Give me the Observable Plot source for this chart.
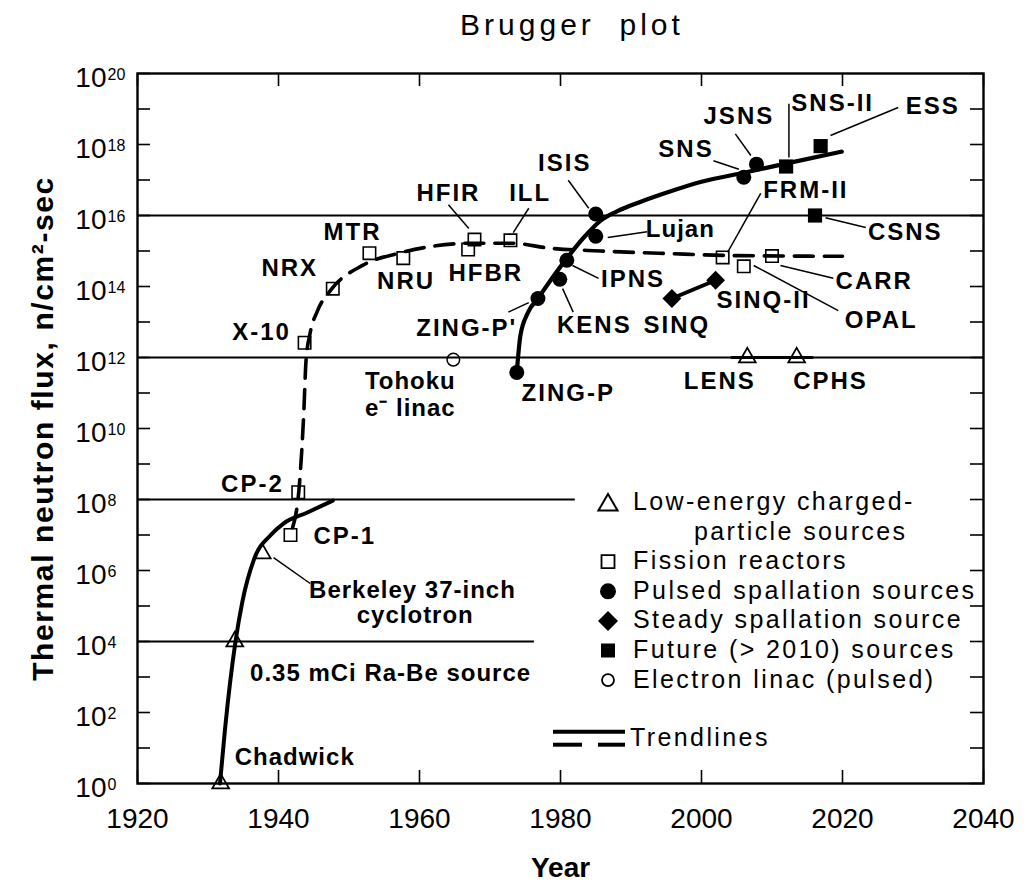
<!DOCTYPE html>
<html>
<head>
<meta charset="utf-8">
<script src="https://cdn.jsdelivr.net/npm/d3@7"></script>
<script src="https://cdn.jsdelivr.net/npm/@observablehq/plot@0.6"></script>
<style>
  body { margin: 0; background: #fff; }
  #title { position: relative; width: 1031px; height: 50px; font-family: "Liberation Sans", Arial, Helvetica, sans-serif; color: #000; }
  #title span { position: absolute; left: 572px; top: 10px; transform: translateX(-50%); font-size: 30px; line-height: 1; letter-spacing: 4px; white-space: pre; }
  g[aria-description="caps"] text { letter-spacing: 2px; }
  g[aria-description="mixed"] text { letter-spacing: 1px; }
  g[aria-description="ytitle"] text { letter-spacing: 1.6px; }
  g.legend text { letter-spacing: 2.4px; }
</style>
</head>
<body>
<div id="title"><span>Brugger  plot</span></div>
<div id="chart"></div>
<script>
// ---------------- data ----------------
const xTicks = [1920, 1940, 1960, 1980, 2000, 2020, 2040];
const yTickExponents = [0, 1, 2, 3, 4, 5, 6, 7, 8, 9, 10, 11, 12, 13, 14, 15, 16, 17, 18, 19, 20];
const yLabelExponents = [0, 2, 4, 6, 8, 10, 12, 14, 16, 18, 20];

// horizontal reference lines (flux level, year where the line ends)
const refLineFlux = [1e16, 1e12, 1e8, 1e4];
const refLineEnd = [2040, 2040, 1982.1, 1976.3];

// Low-energy charged-particle sources (open triangles)
const chargedNames = ["Chadwick", "Ra-Be", "Berkeley", "LENS", "CPHS"];
const chargedYears = [1931.8, 1933.8, 1937.7, 2006.5, 2013.5];
const chargedFlux = [1, 1e4, 3e6, 1e12, 1e12];

// Fission reactors (open squares)
const fissionNames = ["CP-1", "CP-2", "X-10", "NRX", "MTR", "NRU", "HFBR", "HFIR", "ILL", "FRM-II", "OPAL", "CARR"];
const fissionYears = [1941.7, 1942.8, 1943.7, 1947.7, 1952.9, 1957.7, 1966.9, 1967.8, 1972.9, 2003.0, 2006.0, 2010.0];
const fissionFlux = [1e7, 1.6e8, 2.6e12, 8.7e13, 8.7e14, 6.3e14, 1.1e15, 2.1e15, 2e15, 6.6e14, 3.7e14, 7.2e14];

// Pulsed spallation sources (filled circles)
const pulsedNames = ["ZING-P", "ZING-P'", "KENS", "IPNS", "Lujan", "ISIS", "SNS", "JSNS"];
const pulsedYears = [1973.8, 1976.8, 1979.9, 1980.9, 1985.0, 1985.0, 2006.0, 2007.8];
const pulsedFlux = [3.8e11, 4.6e13, 1.6e14, 5.5e14, 2.6e15, 1.1e16, 1.2e17, 2.8e17];

// Steady spallation source (filled diamonds)
const steadyNames = ["SINQ", "SINQ-II"];
const steadyYears = [1995.8, 2002.0];
const steadyFlux = [4.6e13, 1.5e14];

// Future (> 2010) sources (filled squares)
const futureNames = ["SNS-II", "ESS", "CSNS"];
const futureYears = [2012.0, 2016.9, 2016.1];
const futureFlux = [2.4e17, 9e17, 1e16];

// Electron linac (open circle)
const linacNames = ["Tohoku"];
const linacYears = [1964.8];
const linacFlux = [8.7e11];

// Trendlines
const chargedTrendYears = [1931.7, 1932.4, 1933.9, 1934.9, 1936.5, 1938.9, 1940.7, 1944.1, 1947.7];
const chargedTrendFlux = [1, 3.2e1, 1e4, 1.4e5, 2e6, 1e7, 2.1e7, 4.3e7, 9.3e7];

const fissionTrendYears = [1942.0, 1943.0, 1943.6, 1943.9, 1944.5, 1945.5, 1947.4, 1952.0, 1957.3, 1962.3, 1967.5, 1973.0, 1978.5, 1985.7, 1995.0, 2005.0, 2020.0];
const fissionTrendFlux = [1.6e7, 3.2e8, 3.2e10, 7.9e11, 5e12, 2e13, 7.9e13, 4e14, 8.9e14, 1.4e15, 1.66e15, 1.66e15, 1.2e15, 1e15, 8.5e14, 7.4e14, 7.1e14];

const spallTrendYears = [1973.8, 1974.3, 1975.3, 1976.9, 1978.6, 1981.0, 1983.3, 1985.7, 1988.0, 1991.3, 1995.2, 2000.0, 2006.0, 2011.6, 2019.9];
const spallTrendFlux = [3.8e11, 4e12, 1.7e13, 4.9e13, 1.5e14, 6.6e14, 2.4e15, 7.2e15, 1.3e16, 2.4e16, 4.5e16, 8.9e16, 1.6e17, 2.8e17, 6.3e17];

const lensSegYears = [2004.3, 2015.7];
const lensSegFlux = [1e12, 1e12];

// Labels: text and the point (year, flux) at the centre of the text
const labelTexts = ["Chadwick", "0.35 mCi Ra-Be source", "Berkeley 37-inch", "cyclotron", "CP-1", "CP-2", "X-10", "NRX", "MTR", "NRU", "HFBR", "HFIR", "ILL", "ISIS", "Lujan", "IPNS", "KENS", "SINQ", "ZING-P'", "ZING-P", "Tohoku", "e\u207B linac", "SNS", "JSNS", "SNS-II", "ESS", "FRM-II", "CSNS", "CARR", "SINQ-II", "OPAL", "LENS", "CPHS"];
const labelYears = [1942.3, 1955.9, 1959.0, 1959.4, 1949.4, 1936.3, 1937.6, 1941.6, 1950.5, 1958.1, 1969.4, 1964.1, 1975.7, 1980.6, 1997.0, 1990.3, 1984.8, 1996.5, 1966.7, 1981.1, 1958.7, 1958.7, 1997.8, 2005.3, 2018.6, 2032.8, 2014.8, 2028.9, 2024.5, 2008.8, 2025.5, 2002.6, 2018.3];
const labelFlux = [5.4, 1.26e3, 2.75e5, 5.4e4, 9.1e6, 2.6e8, 5e12, 3.2e14, 3.3e15, 1.4e14, 2.3e14, 4.2e16, 4.2e16, 2.9e17, 4.1e15, 1.6e14, 7.9e12, 7.9e12, 6.6e12, 1.0e11, 2.2e11, 3.6e10, 7.4e17, 6.2e18, 1.4e19, 1.2e19, 5e16, 3.3e15, 1.4e14, 4.1e13, 1.1e13, 2.2e11, 2.2e11];

// Leader lines from labels to points
const leaderYear1 = [1939.3, 1964.1, 1975.5, 1981.1, 1992.3, 1985.4, 1981.8, 1972.6, 2001.7, 2004.8, 2012.4, 2027.9, 2008.4, 2017.6, 2011.2, 2007.4];
const leaderFlux1 = [2.3e6, 2e16, 1.6e16, 9.8e16, 3.5e15, 1.7e14, 1.9e13, 1.9e13, 3.5e17, 2e18, 1.4e19, 1.1e19, 4.2e16, 8.7e15, 3.9e14, 3.9e14];
const leaderYear2 = [1944.5, 1967.0, 1973.3, 1984.0, 1986.7, 1981.7, 1980.3, 1975.5, 2005.3, 2007.0, 2012.4, 2018.3, 2003.7, 2023.3, 2018.7, 2019.4];
const leaderFlux2 = [4.3e5, 4.3e15, 3.3e15, 1.6e16, 2.4e15, 3.9e14, 8.7e13, 3.5e13, 2e17, 4.9e17, 4.3e17, 1.8e18, 9.1e14, 4.6e15, 1.7e14, 2.1e13];

// Legend
const legendTexts = ["Low-energy charged-", "particle sources", "Fission reactors", "Pulsed spallation sources", "Steady spallation source", "Future (> 2010) sources", "Electron linac (pulsed)"];
const legendSymbols = ["triangle", "", "square", "circle", "diamond", "filledSquare", "openCircle"];
const trendLegendText = "Trendlines";

// ---------------- build ----------------
const rows = (years, flux, names) => years.map((year, i) => ({year, flux: flux[i], name: names ? names[i] : ""}));
const W = 1031, H = 845, mT = 23, mB = 112, mL = 137, mR = 48;
const fw = W - mL - mR, fh = H - mT - mB;
const tk = 13;
const font = "'Liberation Sans', Arial, Helvetica, sans-serif";

const refRows = refLineFlux.map((flux, i) => ({flux, end: refLineEnd[i]}));
const labels = labelTexts.map((text, i) => ({text, year: labelYears[i], flux: labelFlux[i]}));
const leaders = leaderYear1.map((x1, i) => ({x1, y1: leaderFlux1[i], x2: leaderYear2[i], y2: leaderFlux2[i]}));
const isMixed = d => /[a-z]/.test(d.text);

const plot = Plot.plot({
  width: W, height: H,
  marginTop: mT, marginBottom: mB, marginLeft: mL, marginRight: mR,
  x: {domain: [xTicks[0], xTicks[xTicks.length - 1]], axis: null},
  y: {type: "log", domain: [10 ** yTickExponents[0], 10 ** yTickExponents[yTickExponents.length - 1]], axis: null},
  style: {fontFamily: font, background: "white", overflow: "visible", color: "black"},
  marks: [
    Plot.ruleY(refRows, {y: "flux", x1: () => xTicks[0], x2: "end", stroke: "black", strokeWidth: 1.8}),
    Plot.line(rows(chargedTrendYears, chargedTrendFlux), {x: "year", y: "flux", curve: "monotone-x", stroke: "black", strokeWidth: 4}),
    Plot.line(rows(fissionTrendYears, fissionTrendFlux), {x: "year", y: "flux", curve: "monotone-x", stroke: "black", strokeWidth: 3.6, strokeDasharray: "19,11"}),
    Plot.line(rows(spallTrendYears, spallTrendFlux), {x: "year", y: "flux", curve: "monotone-x", stroke: "black", strokeWidth: 4.2}),
    Plot.line(rows(lensSegYears, lensSegFlux), {x: "year", y: "flux", stroke: "black", strokeWidth: 3}),
    Plot.line(rows(steadyYears, steadyFlux), {x: "year", y: "flux", stroke: "black", strokeWidth: 4}),
    Plot.link(leaders, {x1: "x1", y1: "y1", x2: "x2", y2: "y2", stroke: "black", strokeWidth: 1.5}),
    Plot.dot(rows(chargedYears, chargedFlux, chargedNames), {x: "year", y: "flux", symbol: "triangle", r: 6.2, fill: "none", stroke: "black", strokeWidth: 1.8}),
    Plot.dot(rows(fissionYears, fissionFlux, fissionNames), {x: "year", y: "flux", symbol: "square", r: 7, fill: "none", stroke: "black", strokeWidth: 1.6}),
    Plot.dot(rows(pulsedYears, pulsedFlux, pulsedNames), {x: "year", y: "flux", symbol: "circle", r: 7.5, fill: "black", stroke: "none"}),
    Plot.dot(rows(steadyYears, steadyFlux, steadyNames), {x: "year", y: "flux", symbol: "diamond2", r: 8.5, fill: "black", stroke: "none"}),
    Plot.dot(rows(futureYears, futureFlux, futureNames), {x: "year", y: "flux", symbol: "square", r: 8, fill: "black", stroke: "none"}),
    Plot.dot(rows(linacYears, linacFlux, linacNames), {x: "year", y: "flux", symbol: "circle", r: 6.3, fill: "none", stroke: "black", strokeWidth: 1.5}),
    Plot.text(labels.filter(d => !isMixed(d)), {x: "year", y: "flux", text: "text", fontSize: 24, fontWeight: "bold", fill: "black", ariaDescription: "caps"}),
    Plot.text(labels.filter(isMixed), {x: "year", y: "flux", text: "text", fontSize: 24, fontWeight: "bold", fill: "black", ariaDescription: "mixed"}),
    // inward ticks
    Plot.tickX(xTicks, {x: d => d, insetTop: fh - tk, stroke: "black", strokeWidth: 1.6}),
    Plot.tickX(xTicks, {x: d => d, insetBottom: fh - tk, stroke: "black", strokeWidth: 1.6}),
    Plot.tickY(yTickExponents, {y: e => 10 ** e, insetRight: fw - tk, stroke: "black", strokeWidth: 1.6}),
    Plot.tickY(yTickExponents, {y: e => 10 ** e, insetLeft: fw - tk, stroke: "black", strokeWidth: 1.6}),
    Plot.frame({stroke: "black", strokeWidth: 2.4}),
    // tick labels
    Plot.text(xTicks, {x: d => d, text: d => String(d), frameAnchor: "bottom", textAnchor: "middle", dy: 44, fontSize: 28, fill: "black"}),
    Plot.text(yLabelExponents, {y: e => 10 ** e, text: () => "10", frameAnchor: "left", textAnchor: "end", dx: -31, dy: 5, fontSize: 28, fill: "black"}),
    Plot.text(yLabelExponents, {y: e => 10 ** e, text: e => String(e), frameAnchor: "left", textAnchor: "start", dx: -30, dy: 1, fontSize: 16, fill: "black"}),
    // axis titles
    Plot.text(["Year"], {text: d => d, frameAnchor: "bottom", textAnchor: "middle", dy: 93, fontSize: 28, fontWeight: "bold", fill: "black"}),
    Plot.text(["Thermal neutron flux, n/cm\u00B2-sec"], {text: d => d, frameAnchor: "left", textAnchor: "middle", dx: -94, rotate: -90, fontSize: 30, fontWeight: "bold", fill: "black", ariaDescription: "ytitle"})
  ]
});

document.getElementById("chart").appendChild(plot);

// ---------------- legend ----------------
const svg = d3.select(plot);
const lg = svg.append("g").attr("class", "legend").attr("font-family", font).attr("font-size", 25).attr("fill", "black").attr("text-anchor", "start");
const symX = 608, txtX = 633, indentX = 694;
const row0 = 501 - 50, rowStep = 29.6;
legendTexts.forEach((t, i) => {
  const cy = row0 + i * rowStep;
  lg.append("text").attr("x", i === 1 ? indentX : txtX).attr("y", cy + 9).attr("text-anchor", "start").text(t);
  const s = legendSymbols[i];
  if (!s) return;
  const g = lg.append("g").attr("transform", `translate(${symX},${cy + (s === "triangle" ? 4 : 1.5)})`);
  if (s === "triangle") g.append("path").attr("d", d3.symbol(d3.symbolTriangle, Math.PI * 7.1 * 7.1)()).attr("fill", "none").attr("stroke", "black").attr("stroke-width", 2);
  if (s === "square") g.append("path").attr("d", d3.symbol(d3.symbolSquare, 13 * 13)()).attr("fill", "none").attr("stroke", "black").attr("stroke-width", 1.8);
  if (s === "circle") g.append("circle").attr("r", 8).attr("fill", "black");
  if (s === "diamond") g.append("path").attr("d", d3.symbol(d3.symbolDiamond2, 255)()).attr("fill", "black");
  if (s === "filledSquare") g.append("path").attr("d", d3.symbol(d3.symbolSquare, 14 * 14)()).attr("fill", "black");
  if (s === "openCircle") g.append("circle").attr("r", 6).attr("fill", "none").attr("stroke", "black").attr("stroke-width", 1.8);
});
const ty = 731.7 - 50;
lg.append("line").attr("x1", 553).attr("x2", 625).attr("y1", ty).attr("y2", ty).attr("stroke", "black").attr("stroke-width", 4);
lg.append("line").attr("x1", 553).attr("x2", 582).attr("y1", ty + 13).attr("y2", ty + 13).attr("stroke", "black").attr("stroke-width", 4);
lg.append("line").attr("x1", 598).attr("x2", 625).attr("y1", ty + 13).attr("y2", ty + 13).attr("stroke", "black").attr("stroke-width", 4);
lg.append("text").attr("x", txtX - 3).attr("y", 737.3 - 50 + 9).attr("text-anchor", "start").text(trendLegendText);
</script>
</body>
</html>
